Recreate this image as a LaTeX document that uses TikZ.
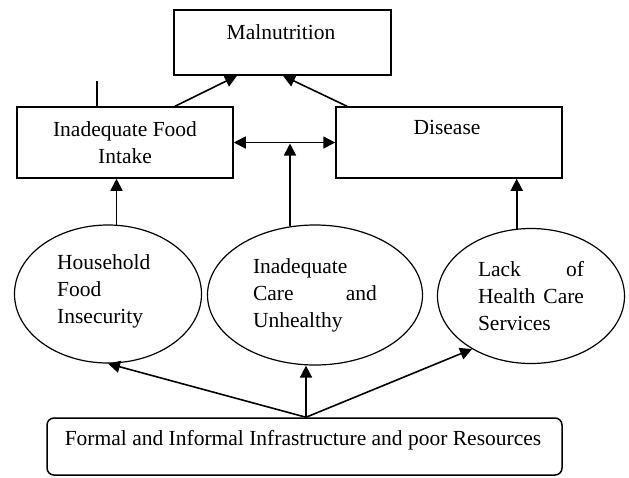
\documentclass[tikz,border=0pt]{standalone}
\usepackage{fontspec}
\setmainfont{Liberation Serif}
\usetikzlibrary{arrows.meta,shapes.geometric,calc}
\begin{document}
\begin{tikzpicture}[x=1pt,y=-1pt,
  box/.style={draw, line width=1.5pt, rectangle, inner sep=0pt},
  oval/.style={draw, line width=1.2pt, ellipse, inner sep=0pt},
  lbl/.style={font=\fontsize{21.5}{27}\selectfont, inner sep=0pt},
  arr/.style={line width=1.6pt, -{Triangle[length=12pt,width=12pt]}},
  darr/.style={line width=1.6pt, {Triangle[length=12pt,width=12pt]}-{Triangle[length=12pt,width=12pt]}}
  ]
\useasboundingbox (0,0) rectangle (629,477);
% boxes
\node[box, minimum width=217pt, minimum height=65pt] (mal) at (282.5,42.5) {};
\node[lbl] (malT) at (281,32) {Malnutrition};
\node[box, lbl, minimum width=216pt, minimum height=71pt, align=center] (food) at (125,142.5) {Inadequate Food\\Intake};
\node[box, minimum width=226pt, minimum height=71pt] (dis) at (449,142.5) {};
\node[lbl] (disT) at (447,127) {Disease};
\node[box, rounded corners=7pt, minimum width=515pt, minimum height=57pt] (base) at (304.5,446.5) {};
\node[lbl] (baseT) at (303,440) {Formal and Informal Infrastructure and poor Resources};
% ellipses
\node[oval, minimum width=187pt, minimum height=138pt] (e1) at (108,294) {};
\node[lbl, align=left, anchor=west] (e1T) at (57,291) {Household\\Food\\Insecurity};
\node[oval, lbl, minimum width=215pt, minimum height=140pt, text width=124pt, align=left] (e2) at (315,295)
  {Inadequate\\\makebox[124pt]{Care\hfill and}\\Unhealthy};
\node[oval, lbl, minimum width=187pt, minimum height=135pt, text width=106pt, align=left] (e3) at (531,296)
  {\makebox[106pt]{Lack\hfill of}\\\makebox[106pt]{Health\hfill Care}\\Services};
% stray tick
\coordinate (tick) at (97,81);
\draw[line width=2.4pt] (tick) -- (tick |- food.north);
% arrows to malnutrition
\draw[arr] ([xshift=50pt]food.north) -- ([xshift=-45.5pt]mal.south);
\draw[arr] ([xshift=-102pt]dis.north) -- ([xshift=0.5pt]mal.south);
% double arrow
\draw[darr] (food.east) -- (dis.west);
% ellipses up
\draw[arr] (e1.83) -- (e1.83 |- food.south);
\draw[arr] (e2.110) -- ($(e2.110 |- food.east)+(0,1)$);
\draw[arr] (e3.102) -- (e3.102 |- dis.south);
% base to ellipses
\coordinate (apex) at ([xshift=1.5pt]base.north);
\draw[arr] (apex) -- (e1.south);
\draw[arr] (apex) -- (apex |- e2.south);
\draw[arr] (apex) -- (e3.222);
\end{tikzpicture}
\end{document}
